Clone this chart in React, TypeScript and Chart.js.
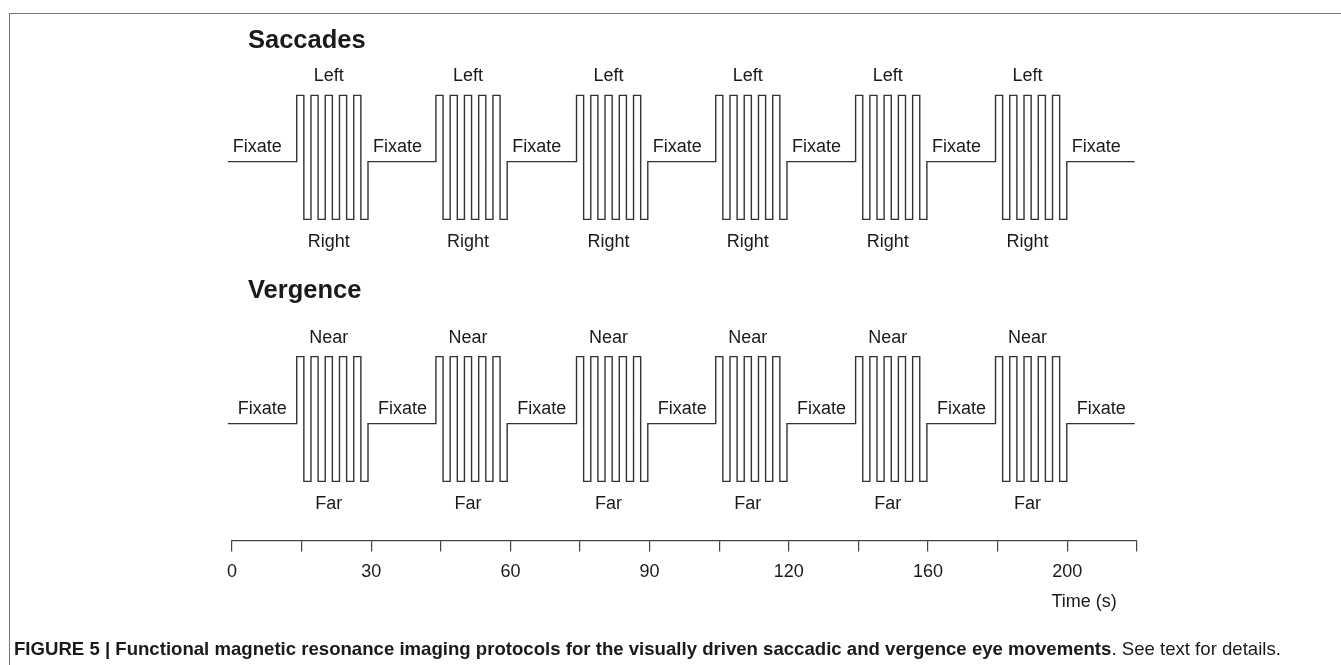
import React, { useEffect, useRef } from "react";
import { Chart, registerables } from "chart.js";

Chart.register(...registerables);

// x values are in time-axis tick steps (one step per printed tick mark)
const tickLabels = ["0", "", "30", "", "60", "", "90", "", "120", "", "160", "", "200", ""];
const axisEnd = 13;
const traceStart = -0.06;
const traceEnd = 12.97;
const blockOnsets = [0.93, 2.93, 4.95, 6.95, 8.96, 10.97];
const blockLength = 1.024;
const pulseStates = ["up", "down", "up", "down", "up", "down", "up", "down", "up", "down"];

const saccadeFixate = 0;
const saccadeLeft = 1;
const saccadeRight = -0.87;
const vergenceFixate = -3.95;
const vergenceNear = -2.94;
const vergenceFar = -4.82;

const saccadeTexts = ["Saccades", "Fixate", "Left", "Right"];
const vergenceTexts = ["Vergence", "Fixate", "Near", "Far"];
const axisTitle = "Time (s)";

type Pt = { x: number; y: number };

function buildTrace(fix: number, up: number, down: number): Pt[] {
  const pts: Pt[] = [{ x: traceStart, y: fix }];
  blockOnsets.forEach((on) => {
    pulseStates.forEach((s, i) => {
      pts.push({ x: on + (i * blockLength) / pulseStates.length, y: s === "up" ? up : down });
    });
    pts.push({ x: on + blockLength, y: fix });
  });
  pts.push({ x: traceEnd, y: fix });
  return pts;
}

const FONT = "'Liberation Sans', Arial, Helvetica, sans-serif";

const labelPlugin = {
  id: "protocolLabels",
  afterDraw(chart: any) {
    const ctx = chart.ctx as CanvasRenderingContext2D;
    const xs = chart.scales.x;
    const ys = chart.scales.y;
    ctx.save();
    ctx.fillStyle = "#1a1a1a";
    ctx.textBaseline = "alphabetic";

    const drawGroup = (
      texts: string[],
      fix: number,
      up: number,
      down: number,
      titleGap: number,
      fixOffset: number,
      upGap: number
    ) => {
      ctx.font = `bold 25.5px ${FONT}`;
      ctx.textAlign = "left";
      ctx.fillText(texts[0], xs.left + 16, ys.getPixelForValue(fix) - titleGap);

      ctx.font = `18px ${FONT}`;
      const rests = [traceStart, ...blockOnsets.map((o) => o + blockLength)];
      rests.forEach((r) => {
        ctx.textAlign = "left";
        ctx.fillText(texts[1], xs.getPixelForValue(r) + fixOffset, ys.getPixelForValue(fix) - 9.2);
      });
      blockOnsets.forEach((on) => {
        const cx = xs.getPixelForValue(on + blockLength * 0.45);
        ctx.textAlign = "center";
        ctx.fillText(texts[2], cx, ys.getPixelForValue(up) - upGap);
        ctx.fillText(texts[3], cx, ys.getPixelForValue(down) + 27.7);
      });
    };

    drawGroup(saccadeTexts, saccadeFixate, saccadeLeft, saccadeRight, 113.4, 5, 14.6);
    drawGroup(vergenceTexts, vergenceFixate, vergenceNear, vergenceFar, 125.7, 10, 13.2);

    ctx.font = `18px ${FONT}`;
    ctx.textAlign = "right";
    ctx.fillText(axisTitle, xs.right - 20, chart.chartArea.bottom + 66);
    ctx.restore();
  },
};

export default function App() {
  const canvasRef = useRef<HTMLCanvasElement | null>(null);

  useEffect(() => {
    if (!canvasRef.current) return;
    const lineStyle = {
      borderColor: "#333",
      borderWidth: 1.4,
      pointRadius: 0,
      fill: false,
      stepped: "before" as const,
      clip: false as any,
    };
    const chart = new Chart(canvasRef.current, {
      type: "line",
      data: {
        datasets: [
          { label: "Saccades", data: buildTrace(saccadeFixate, saccadeLeft, saccadeRight), ...lineStyle },
          { label: "Vergence", data: buildTrace(vergenceFixate, vergenceNear, vergenceFar), ...lineStyle },
        ],
      },
      options: {
        animation: false,
        responsive: false,
        maintainAspectRatio: false,
        events: [],
        layout: { padding: { left: 232, right: 1341 - 232 - 13 * 69.6, top: 29, bottom: 72.9 } },
        plugins: { legend: { display: false }, tooltip: { enabled: false }, title: { display: false } },
        scales: {
          x: {
            type: "linear",
            min: 0,
            max: axisEnd,
            afterBuildTicks: (scale: any) => {
              scale.ticks = tickLabels.map((_, i) => ({ value: i }));
            },
            ticks: {
              autoSkip: false,
              maxRotation: 0,
              padding: 9.5,
              color: "#1a1a1a",
              font: { family: FONT, size: 18 },
              callback: (v: any) => tickLabels[Math.round(Number(v))] ?? "",
            },
            grid: {
              display: true,
              drawOnChartArea: false,
              drawTicks: true,
              tickLength: 11,
              color: "#444",
              lineWidth: 1.2,
            },
            border: { display: true, color: "#444", width: 1.2 },
          },
          y: {
            type: "linear",
            display: false,
            min: -5.712,
            max: 2,
          },
        },
      },
      plugins: [labelPlugin],
    });
    return () => chart.destroy();
  }, []);

  return (
    <div
      style={{
        position: "fixed",
        left: 0,
        top: 0,
        width: 1341,
        height: 665,
        background: "#fff",
        overflow: "hidden",
      }}
    >
      <div
        style={{
          position: "absolute",
          left: 9,
          top: 13,
          width: 1400,
          height: 700,
          borderTop: "1.5px solid #777",
          borderLeft: "1.5px solid #777",
        }}
      />
      <canvas
        ref={canvasRef}
        width={1341}
        height={665}
        style={{ position: "absolute", left: 0, top: 0, width: 1341, height: 665 }}
      />
      <div
        style={{
          position: "absolute",
          left: 14,
          top: 639,
          fontFamily: FONT,
          fontSize: 18.6,
          lineHeight: "20px",
          whiteSpace: "nowrap",
          color: "#1a1a1a",
        }}
      >
        <b>
          FIGURE 5 | Functional magnetic resonance imaging protocols for the visually driven saccadic and
          vergence eye movements
        </b>
        . See text for details.
      </div>
    </div>
  );
}
